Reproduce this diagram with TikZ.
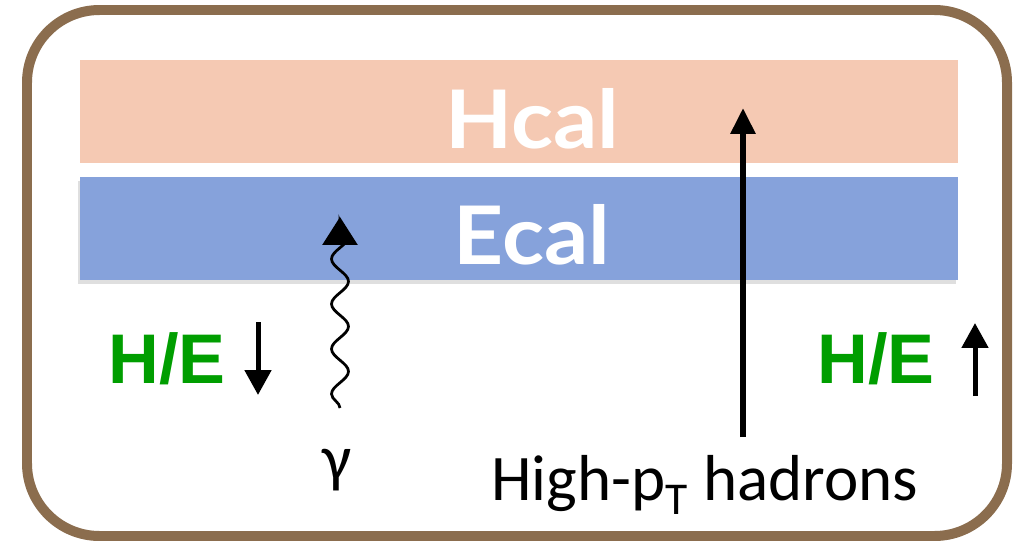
\documentclass[tikz,border=0pt]{standalone}
\usepackage{fontspec}
\setmainfont{Carlito}
\newfontfamily\calfont{Lato}[FakeStretch=1.08]
\newfontfamily\hefont{Liberation Sans}
\usetikzlibrary{arrows.meta,decorations.pathmorphing,shadows}

\definecolor{framebrown}{HTML}{8B6D4E}
\definecolor{hcalfill}{HTML}{F5C9B3}
\definecolor{ecalfill}{HTML}{86A2DB}
\definecolor{hegreen}{HTML}{009E00}

\begin{document}
\begin{tikzpicture}[x=0.02cm,y=-0.02cm,
    layer/.style={rectangle,inner sep=0pt,minimum width=17.56cm,minimum height=2.06cm},
    caltext/.style={inner sep=0pt,text=white,font=\calfont\bfseries\fontsize{46}{46}\selectfont},
    hetext/.style={inner sep=0pt,text=hegreen,font=\hefont\bfseries\fontsize{40}{40}\selectfont},
    plaintext/.style={inner sep=0pt,font=\fontsize{37}{37}\selectfont},
    bigarrow/.style={line width=0.12cm,-{Triangle[width=0.48cm,length=0.52cm]}},
    smallarrow/.style={line width=0.1cm,-{Triangle[width=0.52cm,length=0.5cm]}}]

  \useasboundingbox (0,0) rectangle (1018,541);

  % frame
  \draw[framebrown,line width=0.2cm,rounded corners=1.45cm] (27,10) rectangle (1007,536);

  % calorimeter layers
  \node[layer,fill=hcalfill] (hcal) at (519,111.5) {};
  \node[layer,fill=ecalfill,drop shadow={shadow xshift=-0.04cm,shadow yshift=-0.08cm,opacity=0.25}] (ecal) at (519,228.5) {};

  \node[caltext] (hcaltext) at (532,119) {Hcal};
  \node[caltext] (ecaltext) at (532,235) {Ecal};

  % photon
  \node[plaintext] (gamma) at (337,470) {γ};
  \coordinate (gbot) at (340,408);
  \coordinate (gtop) at (340,217);
  \draw[line width=0.055cm,
        decoration={snake,amplitude=0.17cm,segment length=0.9cm,post length=2pt},
        decorate,-{Triangle[width=0.7cm,length=0.56cm]}] (gbot) -- (gtop);

  % hadrons
  \node[plaintext,anchor=base west] (hadrons) at (491,500) {High-p\textsubscript{T} hadrons};
  \coordinate (hbot) at (743,437);
  \coordinate (htop) at (743,108);
  \draw[bigarrow] (hbot) -- (htop);

  % H/E labels
  \node[hetext] (heleft) at (167,359) {H/E};
  \coordinate (lup) at (258,322);
  \coordinate (ldown) at (258,395);
  \draw[smallarrow] (lup) -- (ldown);

  \node[hetext] (heright) at (876,359) {H/E};
  \coordinate (rdown) at (975,396);
  \coordinate (rup) at (975,323);
  \draw[smallarrow] (rdown) -- (rup);

\end{tikzpicture}
\end{document}
